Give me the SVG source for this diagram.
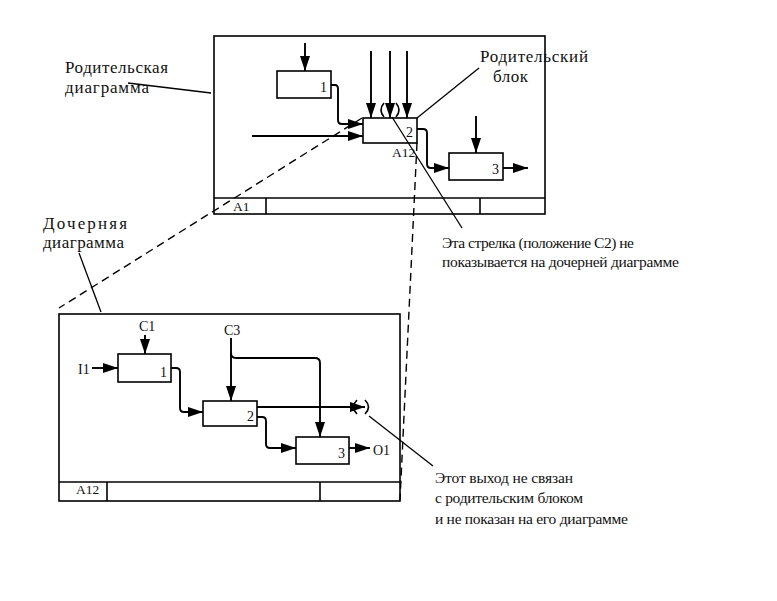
<svg xmlns="http://www.w3.org/2000/svg" width="777" height="601" viewBox="0 0 777 601">
<defs>
<marker id="ah" markerUnits="userSpaceOnUse" markerWidth="16" markerHeight="11" refX="15" refY="5" orient="auto">
<path d="M0,0 L15,5 L0,10 z" fill="#000"/>
</marker>
<style>
.frame{fill:none;stroke:#000;stroke-width:1.6}
.box{fill:#fff;stroke:#000;stroke-width:1.6}
.ln{fill:none;stroke:#000;stroke-width:1.6}
.ar{fill:none;stroke:#000;stroke-width:1.9;marker-end:url(#ah)}
.dash{fill:none;stroke:#000;stroke-width:1.4;stroke-dasharray:8,5}
.lead{fill:none;stroke:#000;stroke-width:1.3}
.t{font-family:"Liberation Serif","DejaVu Serif","Times New Roman",serif;fill:#111}
.big{font-size:17px}
.ann{font-size:15.5px}
.mid{font-size:14px}
.sm{font-size:13.5px}
</style>
</defs>
<rect width="777" height="601" fill="#fff"/>

<g id="parent-diagram">
<rect class="frame" x="214" y="36" width="331" height="178"/>
<line class="ln" x1="214" y1="198" x2="545" y2="198"/>
<line class="ln" x1="266" y1="198" x2="266" y2="214"/>
<line class="ln" x1="480" y1="198" x2="480" y2="214"/>
<text class="t sm" x="233" y="211">A1</text>
</g>

<g id="p-box1">
<rect class="box" x="277" y="71" width="54" height="27"/>
<text class="t mid" x="320" y="92">1</text>
</g>
<g id="p-box2">
<rect class="box" x="363" y="118" width="54" height="25"/>
<text class="t mid" x="406" y="137">2</text>
<text class="t sm" x="392" y="157">A12</text>
</g>
<g id="p-box3">
<rect class="box" x="449" y="153" width="54" height="27"/>
<text class="t mid" x="492" y="174">3</text>
</g>

<g id="child-diagram">
<rect class="frame" x="59" y="314" width="341" height="187"/>
<line class="ln" x1="59" y1="482" x2="400" y2="482"/>
<line class="ln" x1="107" y1="482" x2="107" y2="501"/>
<line class="ln" x1="320" y1="482" x2="320" y2="501"/>
<text class="t sm" x="76" y="494">A12</text>
</g>
<g id="c-box1">
<rect class="box" x="118" y="354" width="53" height="28"/>
<text class="t mid" x="160" y="377">1</text>
</g>
<g id="c-box2">
<rect class="box" x="203" y="401" width="54" height="25"/>
<text class="t mid" x="247" y="421">2</text>
</g>
<g id="c-box3">
<rect class="box" x="296" y="437" width="53" height="27"/>
<text class="t mid" x="338" y="458">3</text>
</g>

<g id="connectors">
<!-- parent -->
<line class="ar" x1="305" y1="43" x2="305" y2="71"/>
<line class="ar" x1="371" y1="51" x2="371" y2="118"/>
<line class="ar" x1="390" y1="51" x2="390" y2="118"/>
<line class="ar" x1="407" y1="51" x2="407" y2="118"/>
<path class="ln" d="M384,103 Q378,110 384,117"/>
<path class="ln" d="M396,103 Q402,110 396,117"/>
<path class="ar" d="M331,85 H335 Q338,85 338,89 V120 Q338,124 342,124 H363" stroke-linejoin="round"/>
<line class="ar" x1="252" y1="136" x2="363" y2="136"/>
<path class="ar" d="M417,129 H423 Q427,129 427,133 V164 Q427,168 431,168 H449" stroke-linejoin="round"/>
<line class="ar" x1="476" y1="116" x2="476" y2="153"/>
<line class="ar" x1="503" y1="168" x2="528" y2="168"/>
<!-- child -->
<line class="ar" x1="145" y1="335" x2="145" y2="354"/>
<line class="ar" x1="92" y1="368" x2="118" y2="368"/>
<text class="t mid" x="139" y="331">C1</text>
<text class="t mid" x="78" y="374">I1</text>
<path class="ar" d="M171,368 H176 Q180,368 180,372 V408 Q180,412 184,412 H203" stroke-linejoin="round"/>
<line class="ar" x1="231" y1="338" x2="231" y2="401"/>
<text class="t mid" x="224" y="335">C3</text>
<path class="ar" d="M231,353 Q231,358 236,358 H315 Q320,358 320,363 V437" stroke-linejoin="round"/>
<line class="ar" x1="257" y1="407" x2="365" y2="407"/>
<path class="ln" d="M357,400 Q350,407 357,414"/>
<path class="ln" d="M365,400 Q372,407 365,414"/>
<path class="ar" d="M257,417 H262 Q266,417 266,421 V444 Q266,448 270,448 H296" stroke-linejoin="round"/>
<line class="ar" x1="349" y1="448" x2="370" y2="448"/>
<text class="t mid" x="373" y="455">O1</text>
<!-- dashed projection lines -->
<line class="dash" x1="362" y1="118" x2="59" y2="308"/>
<line class="dash" x1="417" y1="143" x2="400" y2="500"/>
<!-- leaders -->
<line class="lead" x1="128" y1="83" x2="211" y2="93"/>
<line class="lead" x1="479" y1="68" x2="417" y2="118"/>
<line class="lead" x1="392" y1="117" x2="462" y2="228"/>
<line class="lead" x1="79" y1="253" x2="101" y2="312"/>
<line class="lead" x1="369" y1="416" x2="433" y2="466"/>
</g>

<g id="labels">
<text class="t big" x="65" y="73" textLength="103">Родительская</text>
<text class="t big" x="65" y="93" textLength="84">диаграмма</text>
<text class="t big" x="480" y="62" textLength="108">Родительский</text>
<text class="t big" x="493" y="82" textLength="35">блок</text>
<text class="t big" x="43" y="229" textLength="84">Дочерняя</text>
<text class="t big" x="43" y="248" textLength="81">диаграмма</text>
<text class="t ann" x="442" y="248" textLength="192">Эта стрелка (положение С2) не</text>
<text class="t ann" x="442" y="267" textLength="237">показывается на дочерней диаграмме</text>
<text class="t ann" x="435" y="483" textLength="138">Этот выход не связан</text>
<text class="t ann" x="435" y="503" textLength="148">с родительским блоком</text>
<text class="t ann" x="435" y="524" textLength="193">и не показан на его диаграмме</text>
</g>
</svg>
